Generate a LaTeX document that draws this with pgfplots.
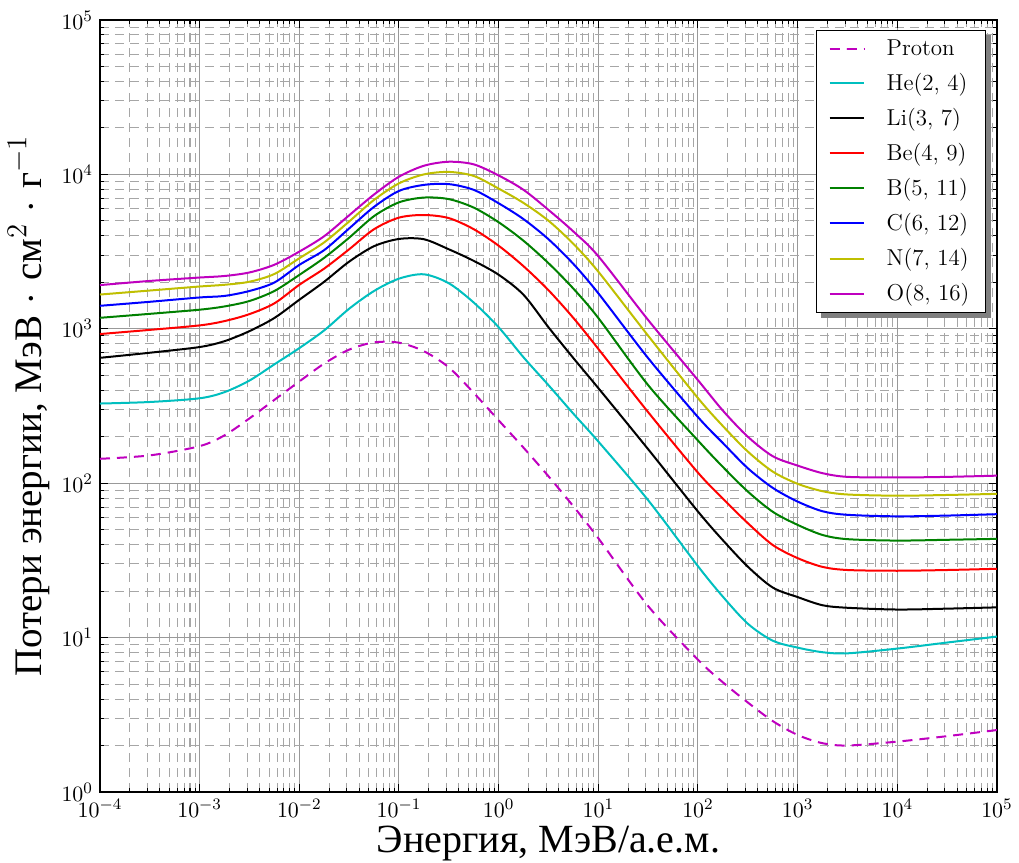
\documentclass[border=0pt]{standalone}
\usepackage{pgfplots}
\pgfplotsset{compat=1.18}
\usepackage{fontspec}
\newfontfamily\cyr{Liberation Serif}
\definecolor{mplm}{rgb}{0.75,0,0.75}
\definecolor{mplc}{rgb}{0,0.75,0.75}
\definecolor{mplg}{rgb}{0,0.5,0}
\definecolor{mply}{rgb}{0.75,0.75,0}
\newcommand{\cd}{\hspace{0.3em}$\cdot$\hspace{0.3em}}
\begin{document}
\begin{tikzpicture}
\begin{axis}[
  xmode=log, ymode=log,
  scale only axis, width=448.5pt, height=386pt,
  xmin=1e-4, xmax=1e5, ymin=1, ymax=1e5,
  grid=both,
  major grid style={draw=black!40, line width=0.5pt},
  minor grid style={draw=black!35, line width=0.5pt, dash pattern=on 4.5pt off 3pt},
  axis line style={line width=0.7pt},
  tick style={black, line width=0.5pt},
  major tick length=4pt, minor tick length=2pt,
  tick align=inside,
  ticklabel style={font=\fontsize{11}{13}\selectfont},
  xlabel style={font=\fontsize{20}{24}\selectfont, yshift=2.5pt},
  ylabel style={font=\fontsize{19.5}{23}\selectfont},
  ylabel shift=-1pt,
  xlabel={\cyr Энергия, МэВ/а.е.м.},
  ylabel={\cyr Потери энергии, МэВ\cd см$^2$\cd г$^{-1}$},
  legend style={at={(0.9877,0.987)}, anchor=north east, draw=black, line width=0.6pt, fill=white,
    font=\fontsize{11.5}{13}\selectfont, row sep=3.4pt, column sep=9pt, inner xsep=6pt, inner ysep=2.5pt, name=leg},
  legend cell align=left,
  every axis plot/.append style={line width=1pt},
]
\addplot[mplm, smooth, dash pattern=on 5pt off 3.5pt] coordinates {
(1e-4,143.9) (3.162e-4,151.4) (1e-3,173.8) (1.778e-3,204.2) (3.162e-3,263.0) (5.623e-3,346.7) (1e-2,456.0) (1.778e-2,595.7) (3.162e-2,732.8) (5.623e-2,816.6) (0.1,812.8) (0.1778,716.1) (0.3162,562.3) (0.5623,384.6) (1,255.3) (1.778,169.8) (3.162,110.9) (5.623,70.8) (10,44.0) (31.62,16.0) (100,7.19) (177.8,5.13) (316.2,3.80) (562.3,2.88) (1000,2.34) (1778,2.07) (3162,2.00) (1e4,2.12) (31620,2.30) (1e5,2.52)};
\addlegendentry{Proton}
\addplot[mplc, smooth] coordinates {
(1e-4,328.1) (3.162e-4,335.7) (1e-3,354.8) (1.778e-3,389.0) (3.162e-3,462.4) (5.623e-3,588.8) (1e-2,749.9) (1.778e-2,977.2) (3.162e-2,1349) (5.623e-2,1758) (0.1,2113) (0.1778,2254) (0.3162,1972) (0.5623,1479) (1,1023) (1.778,653.1) (3.162,431.5) (5.623,281.8) (10,186.2) (31.62,77.6) (100,29.0) (177.8,18.4) (316.2,12.3) (562.3,9.55) (1000,8.61) (1778,8.04) (3162,7.91) (1e4,8.49) (31620,9.29) (1e5,10.16)};
\addlegendentry{He(2, 4)}
\addplot[black, smooth] coordinates {
(1e-4,648.6) (3.162e-4,699.8) (1e-3,762.1) (1.778e-3,831.8) (3.162e-3,966.1) (5.623e-3,1175) (1e-2,1542) (1.778e-2,2018) (3.162e-2,2723) (5.623e-2,3428) (0.1,3819) (0.1778,3802) (0.3162,3273) (0.5623,2754) (1,2239) (1.778,1660) (3.162,1023) (5.623,645.7) (10,413.0) (31.62,166.0) (100,65.5) (177.8,42.7) (316.2,28.8) (562.3,21.1) (1000,18.3) (1778,16.2) (3162,15.6) (1e4,15.2) (31620,15.4) (1e5,15.7)};
\addlegendentry{Li(3, 7)}
\addplot[red, smooth] coordinates {
(1e-4,924.7) (3.162e-4,984.0) (1e-3,1052) (1.778e-3,1122) (3.162e-3,1245) (5.623e-3,1462) (1e-2,1928) (1.778e-2,2455) (3.162e-2,3273) (5.623e-2,4416) (0.1,5248) (0.1778,5458) (0.3162,5212) (0.5623,4416) (1,3451) (1.778,2541) (3.162,1778) (5.623,1175) (10,741.3) (31.62,288.4) (100,117.0) (177.8,79.4) (316.2,55.1) (562.3,39.8) (1000,32.7) (1778,28.7) (3162,27.4) (1e4,27.1) (31620,27.4) (1e5,27.9)};
\addlegendentry{Be(4, 9)}
\addplot[mplg, smooth] coordinates {
(1e-4,1178) (3.162e-4,1250) (1e-3,1330) (1.778e-3,1396) (3.162e-3,1514) (5.623e-3,1758) (1e-2,2234) (1.778e-2,2884) (3.162e-2,3890) (5.623e-2,5370) (0.1,6592) (0.1778,7079) (0.3162,6918) (0.5623,6095) (1,4898) (1.778,3715) (3.162,2661) (5.623,1820) (10,1175) (31.62,431.5) (100,188.8) (177.8,127.4) (316.2,88.3) (562.3,65.3) (1000,53.7) (1778,46.2) (3162,43.4) (1e4,42.5) (31620,43.0) (1e5,43.6)};
\addlegendentry{B(5, 11)}
\addplot[blue, smooth] coordinates {
(1e-4,1409) (3.162e-4,1496) (1e-3,1596) (1.778e-3,1633) (3.162e-3,1758) (5.623e-3,1995) (1e-2,2594) (1.778e-2,3236) (3.162e-2,4467) (5.623e-2,6166) (0.1,7816) (0.1778,8551) (0.3162,8650) (0.5623,7943) (1,6501) (1.778,5129) (3.162,3802) (5.623,2630) (10,1698) (31.62,645.7) (100,267.9) (177.8,182.0) (316.2,125.0) (562.3,93.3) (1000,76.0) (1778,65.8) (3162,62.4) (1e4,61.0) (31620,61.7) (1e5,63.0)};
\addlegendentry{C(6, 12)}
\addplot[mply, smooth] coordinates {
(1e-4,1667) (3.162e-4,1770) (1e-3,1879) (1.778e-3,1928) (3.162e-3,2018) (5.623e-3,2265) (1e-2,2864) (1.778e-2,3631) (3.162e-2,4955) (5.623e-2,6839) (0.1,8750) (0.1778,10000) (0.3162,10375) (0.5623,9772) (1,8091) (1.778,6531) (3.162,5012) (5.623,3548) (10,2344) (31.62,901.6) (100,355.6) (177.8,234.4) (316.2,160.3) (562.3,118.9) (1000,99.1) (1778,88.7) (3162,84.5) (1e4,83.0) (31620,83.9) (1e5,85.3)};
\addlegendentry{N(7, 14)}
\addplot[mplm, smooth] coordinates {
(1e-4,1919) (3.162e-4,2042) (1e-3,2148) (1.778e-3,2198) (3.162e-3,2317) (5.623e-3,2600) (1e-2,3162) (1.778e-2,3981) (3.162e-2,5433) (5.623e-2,7413) (0.1,9661) (0.1778,11376) (0.3162,12078) (0.5623,11614) (1,9840) (1.778,7943) (3.162,5888) (5.623,4266) (10,2951) (31.62,1140) (100,464.5) (177.8,295.1) (316.2,200.0) (562.3,149.6) (1000,130.0) (1778,116.1) (3162,109.9) (1e4,108.9) (31620,109.9) (1e5,111.9)};
\addlegendentry{O(8, 16)}
\end{axis}
\fill[black!50] ([xshift=2.5pt,yshift=-2.5pt]leg.south west) rectangle ([xshift=2.5pt]leg.south east);
\fill[black!50] ([yshift=-2.5pt]leg.north east) rectangle ([xshift=2.5pt]leg.south east);
\pgfresetboundingbox
\useasboundingbox (-50pt,-35.5pt) rectangle (459.5pt,396pt);
\end{tikzpicture}
\end{document}
